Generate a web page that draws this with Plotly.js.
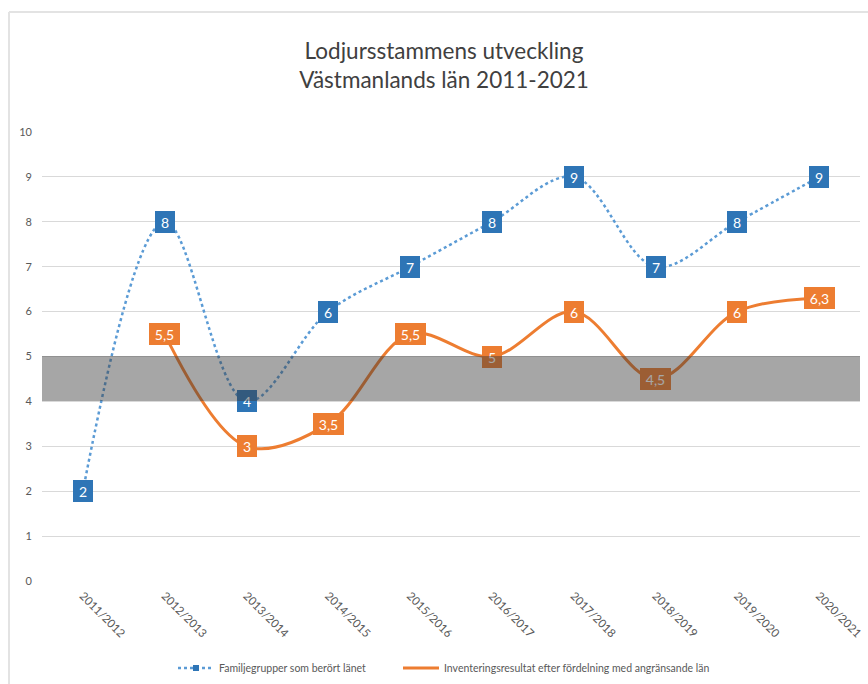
<!DOCTYPE html>
<html>
<head>
<meta charset="utf-8">
<script src="https://cdn.plot.ly/plotly-3.0.1.min.js"></script>
<style>html,body{margin:0;padding:0;background:#fff;}#chart{width:868px;height:684px;}</style>
</head>
<body>
<div id="chart"></div>
<script>
// ---- data ----
var seasons = ["2011/2012","2012/2013","2013/2014","2014/2015","2015/2016","2016/2017","2017/2018","2018/2019","2019/2020","2020/2021"];
var familjegrupper = [2, 8, 4, 6, 7, 8, 9, 7, 8, 9];
var inventering = [null, 5.5, 3, 3.5, 5.5, 5, 6, 4.5, 6, 6.3];
var band = [4, 5];
var yTicks = [0,1,2,3,4,5,6,7,8,9,10];
var seriesNames = ["Familjegrupper som berört länet", "Inventeringsresultat efter fördelning med angränsande län"];

// ---- layout constants ----
var W = 868, H = 684;
var margin = {l: 42, r: 8, t: 132, b: 103, pad: 0};
var yRange = [0, 10];
var plotW = W - margin.l - margin.r;
var plotH = H - margin.t - margin.b;
var FONT = "Lato, 'Open Sans', sans-serif";
var BLUE = "#2E75B6", BLUE_LINE = "#5B9BD5", ORANGE = "#ED7D31";

function fmt(v){ return String(v).replace('.', ','); }

var traces = [
  {
    x: seasons, y: familjegrupper, name: seriesNames[0], legend: 'legend',
    type: 'scatter', mode: 'lines+markers',
    line: {color: BLUE_LINE, width: 2.5, dash: 'dot', shape: 'spline', smoothing: 1},
    marker: {symbol: 'square', size: 6, color: BLUE}
  },
  {
    x: seasons, y: inventering, name: seriesNames[1], legend: 'legend2',
    type: 'scatter', mode: 'lines',
    line: {color: ORANGE, width: 3, shape: 'spline', smoothing: 1},
    connectgaps: false
  }
];

var annotations = [];
function addLabels(vals, color){
  vals.forEach(function(v, i){
    if (v === null) return;
    var t = fmt(v);
    annotations.push({
      x: seasons[i], y: v, xref: 'x', yref: 'y',
      text: t, showarrow: false,
      xanchor: 'center', yanchor: 'middle',
      font: {family: FONT, size: 14, color: '#ffffff'},
      bgcolor: color, borderpad: 3, borderwidth: 0,
      width: t.length > 1 ? 25 : 14, height: 16
    });
  });
}
addLabels(familjegrupper, BLUE);
addLabels(inventering, ORANGE);

// shaded band drawn on top of everything (as in the reference)
annotations.push({
  xref: 'paper', x: 0.5, yref: 'y', y: (band[0] + band[1]) / 2,
  xanchor: 'center', yanchor: 'middle', showarrow: false,
  text: '&nbsp;', bgcolor: 'rgba(57,57,57,0.45)', borderpad: 0, borderwidth: 0,
  width: plotW, height: plotH / (yRange[1] - yRange[0]) * (band[1] - band[0])
});

var legendCommon = {
  orientation: 'h', xanchor: 'left',
  yref: 'container', y: (H - 668) / H, yanchor: 'middle',
  itemwidth: 36,
  font: {family: FONT, size: 10.5, color: '#595959'},
  bgcolor: 'rgba(0,0,0,0)'
};

var layout = {
  width: W, height: H, margin: margin,
  paper_bgcolor: '#ffffff', plot_bgcolor: '#ffffff',
  font: {family: FONT, color: '#595959'},
  title: {
    text: 'Lodjursstammens utveckling<br>Västmanlands län 2011-2021',
    font: {family: FONT, size: 22.5, color: '#404040'},
    xref: 'container', x: 444 / W, xanchor: 'center',
    yref: 'container', y: 1 - 59 / H, yanchor: 'top'
  },
  xaxis: {
    type: 'category', range: [-0.5, seasons.length - 0.5],
    showgrid: false, zeroline: false, showline: false, ticks: '',
    tickangle: 45, ticklabelshift: 0, ticklabelstandoff: 5,
    tickfont: {family: FONT, size: 11.5, color: '#595959'}
  },
  yaxis: {
    range: yRange, tickvals: yTicks, ticktext: yTicks.map(String),
    showgrid: true, gridcolor: '#D9D9D9', gridwidth: 1,
    zeroline: false, showline: false, ticks: '', ticklabelstandoff: 9,
    tickfont: {family: FONT, size: 11, color: '#595959'}
  },
  showlegend: true,
  legend: Object.assign({}, legendCommon, {xref: 'container', x: 173 / W}),
  legend2: Object.assign({}, legendCommon, {xref: 'container', x: 398 / W}),
  shapes: [
    {type: 'line', xref: 'paper', yref: 'paper', x0: (9 - margin.l) / plotW, x1: (9 - margin.l) / plotW,
     y0: (H - margin.b - 12) / plotH, y1: (H - margin.b - H) / plotH, line: {color: '#E3E3E3', width: 2}},
    {type: 'line', xref: 'paper', yref: 'paper', x0: (9 - margin.l) / plotW, x1: (W - margin.l) / plotW,
     y0: (H - margin.b - 12) / plotH, y1: (H - margin.b - 12) / plotH, line: {color: '#E3E3E3', width: 2}}
  ],
  annotations: annotations
};

Plotly.newPlot('chart', traces, layout, {staticPlot: true, displayModeBar: false});
</script>
</body>
</html>
